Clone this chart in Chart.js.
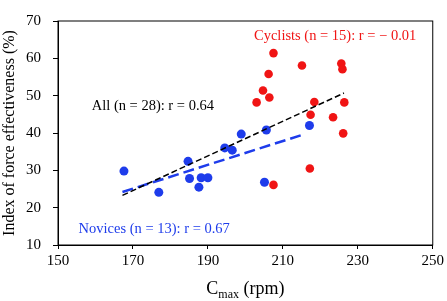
<!DOCTYPE html>
<html>
<head>
<meta charset="utf-8">
<script src="https://cdn.jsdelivr.net/npm/chart.js@4/dist/chart.umd.min.js"></script>
<style>
  html, body { margin: 0; padding: 0; background: #fff; }
  #wrap { width: 447px; height: 301px; }
</style>
</head>
<body>
<div id="wrap"><canvas id="grafico"></canvas></div>
<script>
// dados
const noviceRpm = [167.6, 176.9, 184.7, 185.1, 187.6, 188.2, 190.0, 194.5, 196.5, 198.9, 205.1, 205.6, 217.1];
const noviceIfe = [29.8, 24.1, 32.4, 27.8, 25.5, 28.0, 28.0, 36.0, 35.4, 39.7, 26.8, 40.8, 42.0];

const cyclistRpm = [207.5, 206.2, 204.7, 203.0, 206.4, 207.5, 215.1, 218.4, 217.4, 217.2, 223.4, 225.6, 225.9, 226.4, 226.1];
const cyclistIfe = [61.4, 55.8, 51.4, 48.2, 49.5, 26.1, 58.1, 48.3, 44.9, 30.5, 44.2, 58.6, 57.1, 48.2, 39.9];

// linhas de tendência (extremos)
const allLineRpm = [167.2, 226.3];
const allLineIfe = [23.3, 50.7];
const noviceLineRpm = [167.2, 215.8];
const noviceLineIfe = [24.2, 39.7];

const xTicks = [150, 170, 190, 210, 230, 250];
const yTicks = [10, 20, 30, 40, 50, 60, 70];

const blue = 'rgb(30,60,235)';
const red = 'rgb(240,20,20)';

function pares(xs, ys) {
    return xs.map((x, i) => ({ x: x, y: ys[i] }));
}

// moldura e textos
const extras = {
    id: 'extras',
    afterDraw(chart) {
        const ctx = chart.ctx;
        const a = chart.chartArea;
        const xs = chart.scales.x;
        const ys = chart.scales.y;
        ctx.save();
        ctx.strokeStyle = '#000';
        ctx.lineWidth = 1;
        ctx.strokeRect(a.left, a.top, a.right - a.left, a.bottom - a.top);

        ctx.font = '14.5px "Liberation Serif"';
        ctx.textBaseline = 'middle';
        ctx.textAlign = 'left';
        ctx.fillStyle = red;
        ctx.fillText('Cyclists (n = 15): r = \u2212 0.01', xs.getPixelForValue(202.3), ys.getPixelForValue(65.8));
        ctx.fillStyle = '#000';
        ctx.fillText('All (n = 28): r = 0.64', xs.getPixelForValue(159.0), ys.getPixelForValue(47.2));
        ctx.fillStyle = blue;
        ctx.fillText('Novices (n = 13): r = 0.67', xs.getPixelForValue(155.5), ys.getPixelForValue(14.3));

        // título do eixo x com subscrito
        ctx.fillStyle = '#000';
        ctx.font = '18px "Liberation Serif"';
        const cx = (a.left + a.right) / 2;
        const ty = 294;
        const w1 = ctx.measureText('C').width;
        ctx.font = '12px "Liberation Serif"';
        const w2 = ctx.measureText('max').width;
        ctx.font = '18px "Liberation Serif"';
        const w3 = ctx.measureText(' (rpm)').width;
        let x0 = cx - (w1 + w2 + w3) / 2;
        ctx.textAlign = 'left';
        ctx.textBaseline = 'alphabetic';
        ctx.fillText('C', x0, ty);
        ctx.font = '12px "Liberation Serif"';
        ctx.fillText('max', x0 + w1, ty + 4);
        ctx.font = '18px "Liberation Serif"';
        ctx.fillText(' (rpm)', x0 + w1 + w2, ty);
        ctx.restore();
    }
};

const ctx = document.getElementById('grafico').getContext('2d');
const myChart = new Chart(ctx, {
    type: 'scatter',
    data: {
        datasets: [
            {
                type: 'line',
                label: 'All',
                data: pares(allLineRpm, allLineIfe),
                borderColor: '#000',
                borderWidth: 1.5,
                borderDash: [6, 3],
                pointRadius: 0,
                fill: false
            },
            {
                type: 'line',
                label: 'Novices fit',
                data: pares(noviceLineRpm, noviceLineIfe),
                borderColor: blue,
                borderWidth: 2.5,
                borderDash: [11, 5],
                pointRadius: 0,
                fill: false
            },
            {
                label: 'Novices',
                data: pares(noviceRpm, noviceIfe),
                backgroundColor: blue,
                borderColor: blue,
                pointRadius: 4.5,
                borderWidth: 0
            },
            {
                label: 'Cyclists',
                data: pares(cyclistRpm, cyclistIfe),
                backgroundColor: red,
                borderColor: red,
                pointRadius: 4.3,
                borderWidth: 0
            }
        ]
    },
    options: {
        responsive: true,
        maintainAspectRatio: false,
        animation: false,
        layout: { padding: { top: 8, right: 13, left: 0, bottom: 0 } },
        plugins: {
            legend: { display: false },
            tooltip: { enabled: false }
        },
        scales: {
            x: {
                type: 'linear',
                min: 150,
                max: 250,
                afterBuildTicks: s => { s.ticks = xTicks.map(v => ({ value: v })); },
                afterFit: s => { s.height = 56; },
                grid: { drawOnChartArea: false, drawTicks: true, tickLength: 4, color: '#000' },
                border: { display: true, color: '#000' },
                ticks: { color: '#000', font: { family: 'Liberation Serif', size: 15 }, padding: 3, maxRotation: 0 }
            },
            y: {
                type: 'linear',
                min: 10,
                max: 70,
                afterBuildTicks: s => { s.ticks = yTicks.map(v => ({ value: v })); },
                afterFit: s => { s.width = 58; },
                grid: { drawOnChartArea: false, drawTicks: true, tickLength: 5, color: '#000' },
                border: { display: true, color: '#000' },
                title: {
                    display: true,
                    text: 'Index of force effectiveness (%)',
                    color: '#000',
                    font: { family: 'Liberation Serif', size: 16 },
                    padding: { top: 0, bottom: 2 }
                },
                ticks: { color: '#000', font: { family: 'Liberation Serif', size: 15 }, padding: 12 }
            }
        }
    },
    plugins: [extras]
});
</script>
</body>
</html>
